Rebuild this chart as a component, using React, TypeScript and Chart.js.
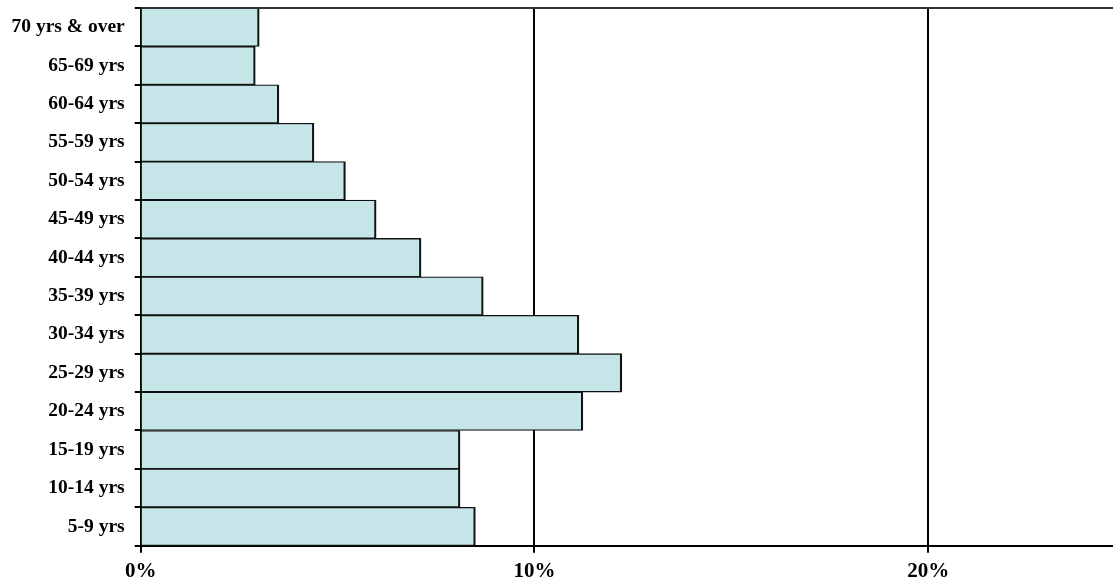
import React, { useEffect, useRef } from "react";
import { Chart, registerables } from "chart.js";

Chart.register(...registerables);

// Age groups, youngest first (drawn bottom to top)
const ageGroups: string[] = [
  "5-9 yrs",
  "10-14 yrs",
  "15-19 yrs",
  "20-24 yrs",
  "25-29 yrs",
  "30-34 yrs",
  "35-39 yrs",
  "40-44 yrs",
  "45-49 yrs",
  "50-54 yrs",
  "55-59 yrs",
  "60-64 yrs",
  "65-69 yrs",
  "70 yrs & over",
];

// Share of population in each age group (%)
const shares: number[] = [8.5, 8.11, 8.11, 11.23, 12.22, 11.13, 8.7, 7.12, 5.98, 5.2, 4.4, 3.51, 2.91, 3.01];

// Percentage ticks shown on the horizontal axis
const percentTicks: number[] = [0, 10, 20];

const FONT = "'Liberation Serif', 'Times New Roman', serif";

// Thin rule along the top of the plot area
const topRule = {
  id: "topRule",
  afterDraw(chart: Chart) {
    const { ctx, chartArea } = chart;
    ctx.save();
    ctx.strokeStyle = "#333";
    ctx.lineWidth = 2;
    ctx.beginPath();
    ctx.moveTo(chartArea.left, chartArea.top);
    ctx.lineTo(chartArea.right, chartArea.top);
    ctx.stroke();
    ctx.restore();
  },
};

export default function App() {
  const canvasRef = useRef<HTMLCanvasElement | null>(null);

  useEffect(() => {
    if (!canvasRef.current) return;
    const chart = new Chart(canvasRef.current, {
      type: "bar",
      data: {
        labels: ageGroups,
        datasets: [
          {
            data: shares,
            backgroundColor: "#c6e5e8",
            borderColor: "#111",
            borderWidth: { top: 1.3, bottom: 1.3, right: 2.2, left: 0 },
            borderSkipped: false,
            barPercentage: 1,
            categoryPercentage: 1,
          },
        ],
      },
      plugins: [topRule],
      options: {
        indexAxis: "y",
        animation: false,
        responsive: false,
        maintainAspectRatio: false,
        layout: { padding: { top: 8, left: 0, right: 0, bottom: 0 } },
        plugins: {
          legend: { display: false },
          tooltip: { enabled: false },
        },
        scales: {
          x: {
            type: "linear",
            min: 0,
            max: 25,
            afterBuildTicks(scale: any) {
              scale.ticks = percentTicks.map((v) => ({ value: v }));
            },
            afterFit(scale: any) {
              scale.height = 38.3;
              scale.paddingLeft = 0;
              scale.paddingRight = 0;
            },
            ticks: {
              includeBounds: false,
              color: "#000",
              padding: 6,
              maxRotation: 0,
              font: { family: FONT, size: 21, weight: "bold" },
              callback: (v: any) => `${v}%`,
            },
            grid: {
              color: "#000",
              lineWidth: 2,
              tickLength: 7,
              drawOnChartArea: true,
            },
            border: { color: "#000", width: 2 },
          },
          y: {
            type: "category",
            reverse: true,
            offset: true,
            afterFit(scale: any) {
              scale.width = 140.7;
              scale.paddingTop = 0;
              scale.paddingBottom = 0;
            },
            ticks: {
              color: "#000",
              padding: 10,
              font: { family: FONT, size: 19.5, weight: "bold" },
            },
            grid: {
              offset: true,
              drawOnChartArea: false,
              color: "#000",
              lineWidth: 2,
              tickLength: 6,
            },
            border: { color: "#000", width: 2 },
          },
        },
      },
    });
    return () => chart.destroy();
  }, []);

  return (
    <div
      style={{
        position: "fixed",
        left: 0,
        top: 0,
        width: 1113,
        height: 584,
        overflow: "hidden",
        background: "#fff",
      }}
    >
      <canvas ref={canvasRef} width={1125} height={584} style={{ display: "block" }} />
    </div>
  );
}
